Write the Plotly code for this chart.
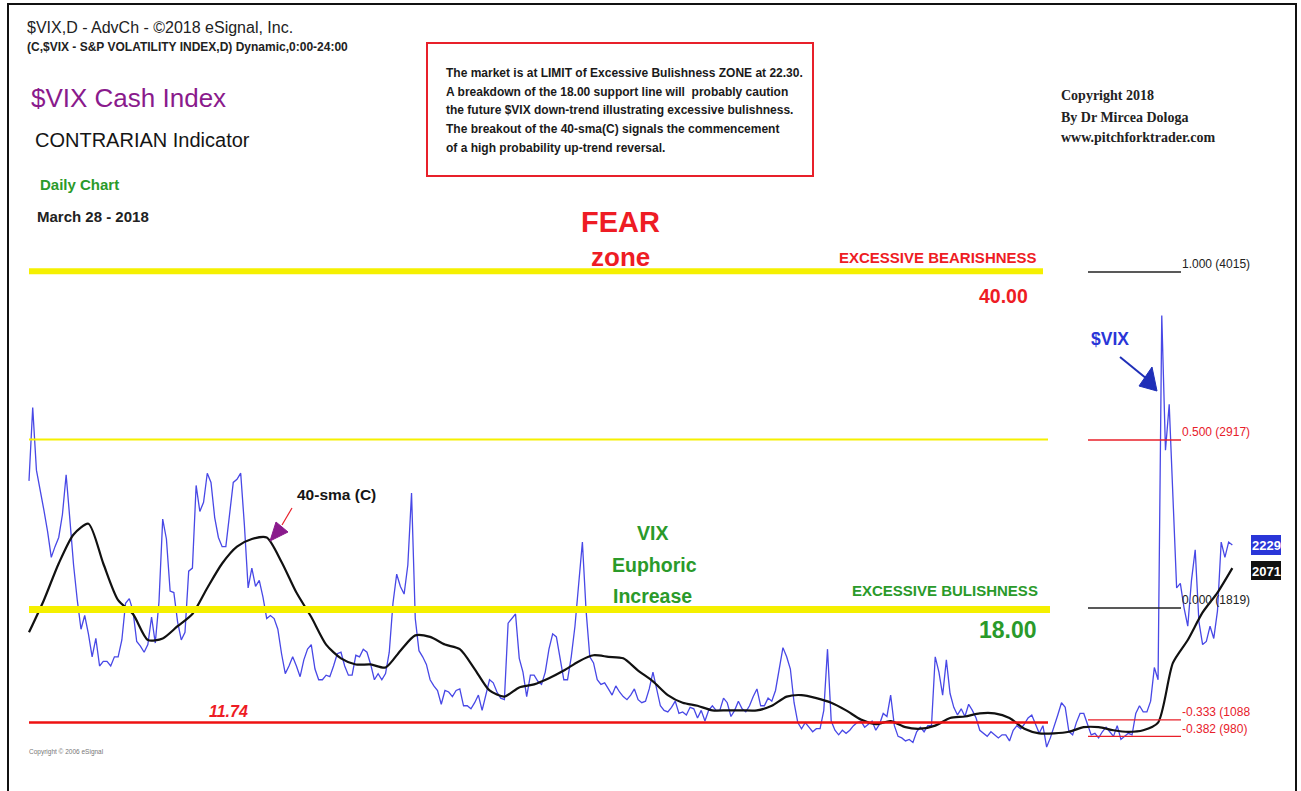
import plotly.graph_objects as go

W, H = 1301, 791

# ---------------- data ----------------
# $VIX daily close, one value every 2 trading days (Aug 31 2015 -> Mar 28 2018)
vix_close = [
    26.5, 31.3, 27.2, 26.0, 24.6, 23.2, 21.5, 22.2, 22.8, 24.3,
    26.9, 24.0, 21.0, 18.7, 16.8, 17.7, 16.5, 15.0, 16.2, 14.4,
    14.7, 14.7, 14.4, 15.0, 15.0, 16.1, 18.5, 18.8, 18.0, 16.0,
    15.7, 15.3, 15.8, 17.6, 15.9, 18.6, 24.0, 22.7, 19.3, 19.2,
    17.3, 16.1, 16.6, 20.6, 20.8, 26.2, 24.5, 25.1, 27.0, 26.4,
    24.1, 22.8, 22.2, 22.2, 24.2, 26.4, 26.6, 27.0, 23.6, 19.5,
    20.8, 19.6, 20.0, 18.9, 17.5, 17.7, 17.5, 16.8, 15.2, 13.9,
    14.4, 15.0, 14.4, 13.7, 14.8, 15.5, 15.8, 14.2, 13.5, 13.5,
    13.8, 13.7, 14.4, 15.2, 15.3, 14.4, 13.8, 13.8, 15.1, 15.0,
    15.5, 15.3, 14.5, 13.5, 13.9, 13.5, 13.9, 15.3, 18.5, 20.4,
    19.6, 19.1, 21.0, 25.7, 17.5, 15.4, 15.0, 14.5, 13.5, 13.1,
    12.8, 11.9, 12.8, 12.7, 12.4, 12.8, 12.9, 11.8, 11.8, 11.6,
    12.0, 12.5, 11.5, 12.6, 13.5, 13.3, 12.7, 12.3, 12.2, 17.2,
    17.5, 17.8, 14.9, 14.0, 12.4, 13.8, 13.8, 13.4, 13.2, 14.0,
    15.5, 16.5, 16.3, 14.8, 13.5, 13.5, 15.0, 17.0, 19.5, 22.5,
    18.0, 15.0, 14.6, 13.5, 13.2, 13.3, 12.9, 12.5, 13.1, 12.7,
    12.4, 12.2, 12.5, 12.9, 12.2, 12.0, 12.1, 12.9, 14.0, 12.9,
    11.8, 11.5, 11.4, 11.7, 12.1, 11.3, 11.4, 11.2, 11.7, 11.6,
    11.0, 11.5, 10.8, 11.5, 11.8, 11.5, 11.5, 12.3, 12.0, 11.1,
    11.5, 12.1, 11.6, 11.4, 11.8, 12.4, 12.9, 11.8, 11.8, 12.3,
    12.1, 12.8, 14.2, 15.6, 15.0, 14.2, 12.0, 10.7, 10.3, 10.7,
    10.4, 10.1, 10.3, 10.3, 11.5, 15.5, 10.8, 10.2, 9.9, 10.2,
    10.0, 10.2, 10.5, 10.7, 10.8, 10.4, 10.6, 10.8, 10.2, 10.6,
    11.3, 11.1, 12.5, 10.5, 9.8, 9.7, 9.5, 9.6, 9.4, 10.1,
    10.4, 10.1, 10.5, 10.5, 15.0, 14.0, 12.5, 14.8, 12.6, 11.7,
    11.2, 11.6, 11.1, 11.9, 11.5, 11.0, 10.2, 10.0, 9.8, 10.1,
    9.9, 9.7, 9.9, 9.9, 9.5, 10.2, 10.5, 10.3, 10.6, 11.0,
    11.2, 10.6, 10.0, 10.5, 9.1, 9.7, 10.4, 11.2, 12.0, 11.7,
    10.1, 9.9, 10.7, 11.3, 11.3, 10.6, 9.9, 10.0, 9.7, 10.1,
    10.4, 10.1, 9.8, 10.5, 9.6, 9.8, 10.0, 9.9, 11.3, 11.8,
    11.4, 11.4, 12.1, 14.3, 13.5, 37.3, 28.5, 31.5, 25.2, 19.5,
    19.8, 18.2, 17.0, 20.0, 22.0, 17.3, 15.8, 16.0, 17.0, 16.2,
    18.0, 22.5, 21.5, 22.5, 22.3,
]
vix_step = 2  # trading days between samples

# 40-period simple moving average, one value every 8 trading days
sma40 = [
    16.6, 18.7, 21.1, 23.0, 23.7, 21.1, 18.7, 17.8, 16.1, 16.2,
    17.0, 17.8, 19.5, 21.1, 22.2, 22.7, 22.8, 21.2, 19.2, 17.6,
    15.8, 14.9, 14.5, 14.5, 14.3, 15.4, 16.4, 16.3, 15.8, 15.5,
    14.2, 12.8, 12.4, 13.0, 13.2, 13.6, 14.1, 14.7, 15.1, 15.0,
    14.9, 14.1, 13.4, 12.5, 12.0, 11.8, 11.5, 11.5, 11.5, 11.5,
    11.8, 12.4, 12.5, 12.3, 12.0, 11.5, 10.9, 10.6, 10.8, 10.4,
    10.3, 10.5, 11.0, 11.1, 11.3, 11.3, 11.0, 10.3, 10.0, 10.0,
    10.1, 10.4, 10.4, 10.2, 10.1, 10.2, 10.7, 14.6, 16.1, 17.9,
    19.2, 20.8,
]
sma_step = 8

# horizontal zone lines (value as drawn on the chart)
bear_level = 40.2      # "40.00" excessive bearishness
mid_level = 29.2       # thin yellow line
bull_level = 18.1      # "18.00" excessive bullishness
support_level = 10.7   # "11.74" red line

# Fibonacci levels (value, label)
fib_values = [40.15, 29.17, 18.19, 10.88, 9.80]
fib_labels = ["1.000 (4015)", "0.500 (2917)", "0.000 (1819)", "-0.333 (1088", "-0.382 (980)"]
fib_colors = ["#222222", "#e8202a", "#222222", "#e8202a", "#e8202a"]

last_close_label = "2229"
last_sma_label = "2071"

# ---------------- figure ----------------
vix_x = [i * vix_step for i in range(len(vix_close))]
sma_x = [i * sma_step for i in range(len(sma40))]

PXD = 1.857            # pixels per trading day
X0 = 29                # pixel of first bar
YREF, VREF, PPU = 608, 18.19, 15.3  # pixel / value anchor, pixels per unit

x_range = [-X0 / PXD, (W - X0) / PXD]
y_range = [VREF - (H - YREF) / PPU, VREF + YREF / PPU]

fig = go.Figure()
fig.add_trace(go.Scatter(x=vix_x, y=vix_close, mode="lines",
                         line=dict(color="#4848e6", width=1.3), hoverinfo="skip"))
fig.add_trace(go.Scatter(x=sma_x, y=sma40, mode="lines",
                         line=dict(color="#111111", width=2.2, shape="spline", smoothing=0.7),
                         hoverinfo="skip"))


def px(x):
    return x / W


def py(y):
    return 1 - y / H


def dx(xpix):
    return (xpix - X0) / PXD


shapes = []
# zone lines
shapes.append(dict(type="line", xref="x", yref="y", x0=dx(29), x1=dx(1043), y0=bear_level, y1=bear_level,
                   line=dict(color="#f5f000", width=6)))
shapes.append(dict(type="line", xref="x", yref="y", x0=dx(29), x1=dx(1048), y0=mid_level, y1=mid_level,
                   line=dict(color="#f5f000", width=2)))
shapes.append(dict(type="line", xref="x", yref="y", x0=dx(29), x1=dx(1050), y0=bull_level, y1=bull_level,
                   line=dict(color="#f5f000", width=7)))
shapes.append(dict(type="line", xref="x", yref="y", x0=dx(29), x1=dx(1048), y0=support_level, y1=support_level,
                   line=dict(color="#ee1111", width=2.5)))
# fib lines
for v, c in zip(fib_values, fib_colors):
    shapes.append(dict(type="line", xref="x", yref="y", x0=dx(1088), x1=dx(1181), y0=v, y1=v,
                       line=dict(color=c, width=1.3)))
# outer frame
shapes.append(dict(type="path", xref="paper", yref="paper",
                   path=f"M {px(8)} {py(810)} L {px(8)} {py(4)} L {px(1296)} {py(4)} L {px(1296)} {py(810)}",
                   line=dict(color="#111111", width=2)))
# red text box
shapes.append(dict(type="rect", xref="paper", yref="paper", x0=px(427), x1=px(813), y0=py(43), y1=py(176),
                   line=dict(color="#e8202a", width=2)))
# 40-sma pointer
shapes.append(dict(type="line", xref="paper", yref="paper", x0=px(292), y0=py(508), x1=px(282), y1=py(525),
                   line=dict(color="#e8202a", width=1.2)))
shapes.append(dict(type="path", xref="paper", yref="paper",
                   path=f"M {px(270)} {py(541)} L {px(276)} {py(522)} L {px(288)} {py(532)} Z",
                   fillcolor="#8a1a8c", line=dict(color="#8a1a8c", width=1)))
# $VIX pointer
shapes.append(dict(type="line", xref="paper", yref="paper", x0=px(1120), y0=py(357), x1=px(1147), y1=py(379),
                   line=dict(color="#1f2fb8", width=2)))
shapes.append(dict(type="path", xref="paper", yref="paper",
                   path=f"M {px(1157)} {py(391)} L {px(1139)} {py(386)} L {px(1152)} {py(367)} Z",
                   fillcolor="#1f2fb8", line=dict(color="#1f2fb8", width=1)))
# last value boxes
shapes.append(dict(type="rect", xref="paper", yref="paper", x0=px(1251), x1=px(1281), y0=py(535), y1=py(555),
                   fillcolor="#2a36d8", line=dict(width=0)))
shapes.append(dict(type="rect", xref="paper", yref="paper", x0=px(1251), x1=px(1281), y0=py(561), y1=py(580),
                   fillcolor="#111111", line=dict(width=0)))

SANS = "Liberation Sans, Arial"
SERIF = "Liberation Serif, Times New Roman"

annotations = []


def txt(x, y, text, size, color="#222222", family=SANS, xanchor="left"):
    annotations.append(dict(x=px(x), y=py(y), xref="paper", yref="paper", text=text, showarrow=False,
                            xanchor=xanchor, yanchor="middle", borderpad=0,
                            font=dict(size=size, color=color, family=family)))


txt(26, 27, "$VIX,D - AdvCh - ©2018 eSignal, Inc.", 16, "#222222")
txt(26, 47, "<b>(C,$VIX - S&P VOLATILITY INDEX,D) Dynamic,0:00-24:00</b>", 12, "#222222")
txt(30, 98, "$VIX Cash Index", 26, "#8a1a8c")
txt(34, 140, "CONTRARIAN Indicator", 20, "#151515")
txt(39, 185, "<b>Daily Chart</b>", 15, "#2a9a2a")
txt(36, 216, "<b>March 28 - 2018</b>", 15, "#222222")

box_lines = [
    (73, "The market is at LIMIT of Excessive Bulishness ZONE at 22.30."),
    (92, "A breakdown of the 18.00 support line will  probably caution"),
    (110, "the future $VIX down-trend illustrating excessive bulishness."),
    (129, "The breakout of the 40-sma(C) signals the commencement"),
    (148, "of a high probability up-trend reversal."),
]
for yy, t in box_lines:
    txt(445, yy, f"<b>{t}</b>", 12, "#1a1a1a")

txt(620, 222, "<b>FEAR</b>", 29, "#ee1c24", SANS, "center")
txt(620, 257, "<b>zone</b>", 26, "#ee1c24", SANS, "center")
txt(1038, 257, "<b>EXCESSIVE BEARISHNESS</b>", 15, "#ee1c24", SANS, "right")
txt(1029, 296, "<b>40.00</b>", 19.5, "#ee1c24", SANS, "right")

txt(1060, 96, "<b>Copyright 2018</b>", 14, "#222222", SERIF)
txt(1060, 117, "<b>By Dr Mircea Dologa</b>", 14, "#222222", SERIF)
txt(1060, 138, "<b>www.pitchforktrader.com</b>", 14, "#222222", SERIF)

fib_label_y = [264, 432, 600, 712, 729]
for yy, lab, c in zip(fib_label_y, fib_labels, fib_colors):
    txt(1181, yy, lab, 12, c)

txt(1090, 339, "<b>$VIX</b>", 17.5, "#2a36d8")
txt(1266, 545, f"<b>{last_close_label}</b>", 13, "#ffffff", SANS, "center")
txt(1266, 571, f"<b>{last_sma_label}</b>", 13, "#ffffff", SANS, "center")

txt(296, 494, "<b>40-sma (C)</b>", 15.5, "#151515")
txt(652, 533, "<b>VIX</b>", 19.5, "#2a9a2a", SANS, "center")
txt(654, 565, "<b>Euphoric</b>", 19.5, "#2a9a2a", SANS, "center")
txt(652, 596, "<b>Increase</b>", 19.5, "#2a9a2a", SANS, "center")
txt(1039, 590, "<b>EXCESSIVE BULISHNESS</b>", 15, "#2a9a2a", SANS, "right")
txt(1038, 630, "<b>18.00</b>", 23, "#2a9a2a", SANS, "right")
txt(228, 711, "<b><i>11.74</i></b>", 16, "#ee1c24", SANS, "center")
txt(28, 752, "Copyright © 2006 eSignal", 6.5, "#777777")

fig.update_layout(
    width=W, height=H, autosize=False,
    margin=dict(l=0, r=0, t=0, b=0),
    paper_bgcolor="white", plot_bgcolor="white",
    showlegend=False,
    xaxis=dict(range=x_range, visible=False, fixedrange=True),
    yaxis=dict(range=y_range, visible=False, fixedrange=True),
    shapes=shapes, annotations=annotations,
)

fig.write_html("out.html", config={"displayModeBar": False},
               post_script="document.body.style.margin='0';document.body.style.overflow='hidden';")
